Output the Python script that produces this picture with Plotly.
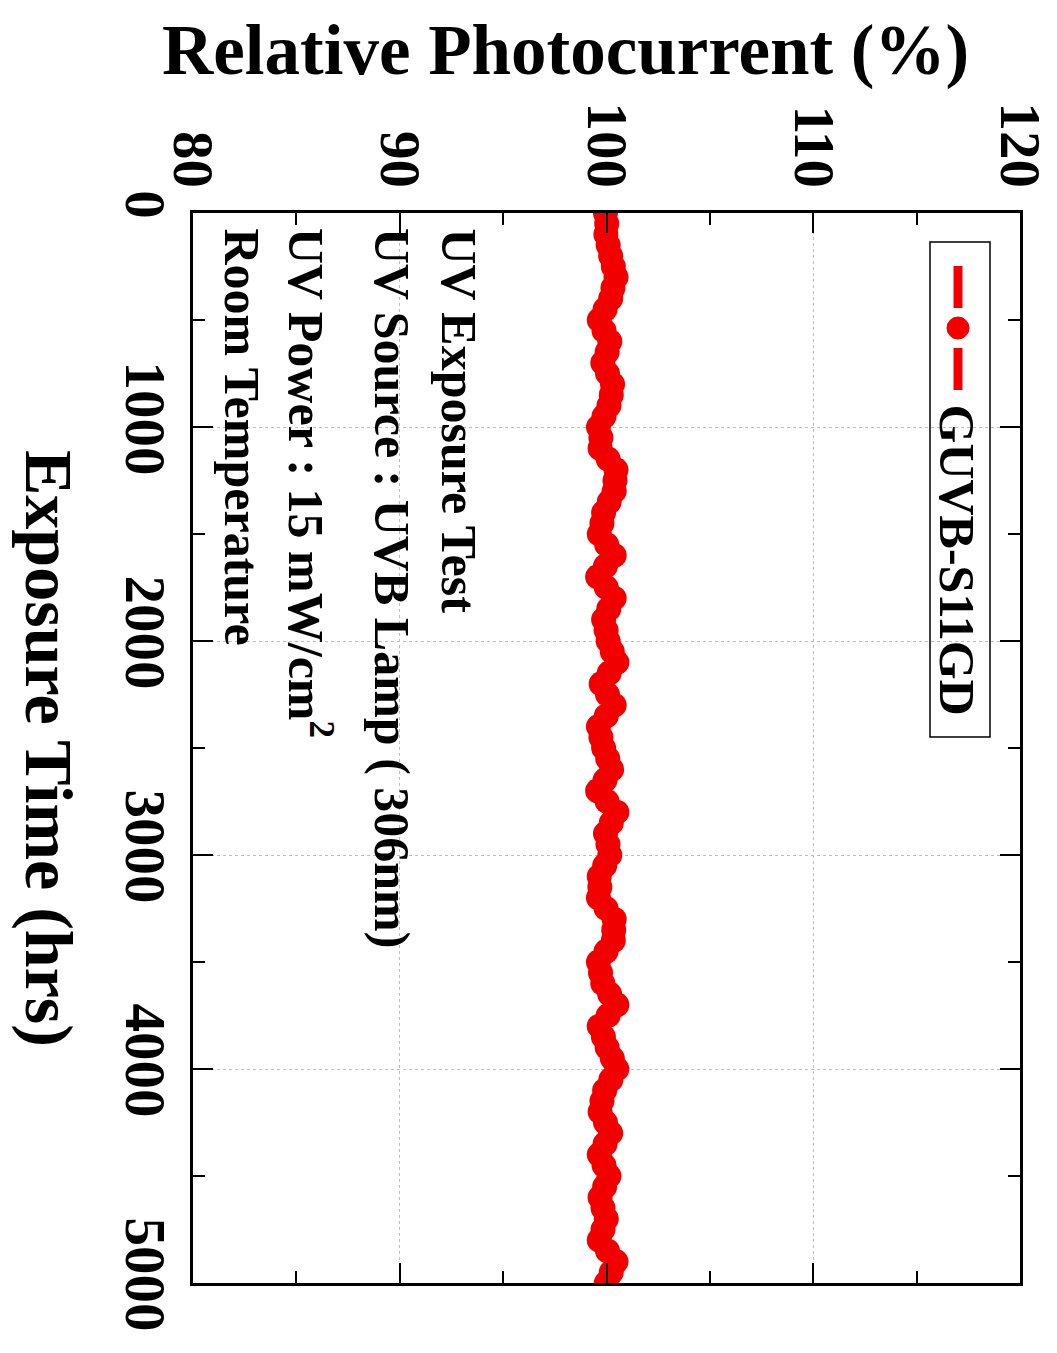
import plotly.graph_objects as go

# Exposure time (hrs), one reading every 50 hrs
exposure_hrs = [0, 50, 100, 150, 200, 250, 300, 350, 400, 450,
                500, 550, 600, 650, 700, 750, 800, 850, 900, 950,
                1000, 1050, 1100, 1150, 1200, 1250, 1300, 1350, 1400, 1450,
                1500, 1550, 1600, 1650, 1700, 1750, 1800, 1850, 1900, 1950,
                2000, 2050, 2100, 2150, 2200, 2250, 2300, 2350, 2400, 2450,
                2500, 2550, 2600, 2650, 2700, 2750, 2800, 2850, 2900, 2950,
                3000, 3050, 3100, 3150, 3200, 3250, 3300, 3350, 3400, 3450,
                3500, 3550, 3600, 3650, 3700, 3750, 3800, 3850, 3900, 3950,
                4000, 4050, 4100, 4150, 4200, 4250, 4300, 4350, 4400, 4450,
                4500, 4550, 4600, 4650, 4700, 4750, 4800, 4850, 4900, 4950, 5000]
# Relative photocurrent (%)
photocurrent = [99.95, 100.01, 99.97, 100.08, 100.20, 100.33, 100.46, 100.31, 100.20, 99.93,
                99.65, 99.88, 100.16, 100.03, 99.82, 100.05, 100.29, 100.23, 100.12, 99.88,
                99.61, 99.73, 99.69, 100.08, 100.46, 100.41, 100.37, 100.13, 99.86, 99.78,
                99.65, 100.01, 100.37, 99.95, 99.57, 99.99, 100.37, 100.11, 99.86, 99.98,
                100.08, 100.28, 100.50, 100.13, 99.74, 100.05, 100.37, 99.99, 99.61, 99.73,
                99.86, 100.06, 100.25, 99.93, 99.57, 100.03, 100.50, 100.23, 99.95, 100.07,
                100.16, 99.91, 99.65, 99.68, 99.61, 99.98, 100.37, 100.35, 100.33, 99.98,
                99.61, 99.71, 99.82, 100.15, 100.50, 100.08, 99.65, 99.85, 100.03, 100.28,
                100.50, 100.21, 99.91, 99.78, 99.69, 99.95, 100.20, 99.93, 99.65, 99.88,
                100.12, 99.91, 99.69, 99.83, 99.99, 99.83, 99.65, 100.05, 100.46, 100.23, 99.99]

x_ticks = [80, 90, 100, 110, 120]
y_ticks = [0, 1000, 2000, 3000, 4000, 5000]
series_name = "GUVB-S11GD"
notes = ["UV Exposure Test",
         "UV Source : UVB Lamp ( 306nm)",
         "UV Power : 15 mW/cm<sup>2</sup>",
         "Room Temperature"]

FONT = "Liberation Serif"
RED = "#f20000"

OFF = 8  # page body margin of the html page
W, H = 1057 - OFF, 1353 - OFF
L, R, T, B = 193 - OFF, 37, 213 - OFF, 70
PW, PH = W - L - R, H - T - B


def px(xp):
    # page pixel -> paper coordinate
    return (xp - OFF - L) / PW


def py(yp):
    return 1 - (yp - OFF - T) / PH


fig = go.Figure()
fig.add_trace(go.Scatter(
    x=photocurrent, y=exposure_hrs, mode="lines+markers",
    line=dict(color=RED, width=6),
    marker=dict(color=RED, size=25, symbol="circle"),
    name=series_name, showlegend=False,
))

axis_common = dict(
    showline=True, linecolor="black", linewidth=3, mirror="ticks",
    ticks="inside", ticklen=20, tickwidth=2, tickcolor="black",
    showgrid=True, gridcolor="#bdbdbd", griddash="dot", gridwidth=1,
    zeroline=False, tickangle=90, automargin=False,
    tickfont=dict(family=FONT, size=57, color="black", weight="bold"),
)

fig.update_xaxes(
    range=[80, 120], side="top", tickvals=x_ticks,
    ticktext=[str(v) for v in x_ticks],
    minor=dict(dtick=5, ticks="inside", ticklen=12, tickwidth=2, tickcolor="black", showgrid=False),
    ticklabelstandoff=2,
    **axis_common,
)
fig.update_yaxes(
    range=[5000, 0], tickvals=y_ticks,
    ticktext=[str(v) for v in y_ticks],
    minor=dict(dtick=500, ticks="inside", ticklen=12, tickwidth=2, tickcolor="black", showgrid=False),
    ticklabelstandoff=-4,
    **axis_common,
)

annotations = [
    dict(text="<b>Relative Photocurrent (%)</b>", xref="paper", yref="paper",
         x=px(565), y=py(9), xanchor="center", yanchor="top", showarrow=False,
         font=dict(family=FONT, size=71, color="black")),
    dict(text="<b>Exposure Time (hrs)</b>", xref="paper", yref="paper",
         x=px(9), y=py(748), xanchor="left", yanchor="middle", showarrow=False,
         textangle=90, font=dict(family=FONT, size=68, color="black")),
    dict(text="<b>" + series_name + "</b>", xref="paper", yref="paper",
         x=px(957), y=py(402), xanchor="center", yanchor="top", showarrow=False,
         textangle=90, font=dict(family=FONT, size=50, color="black")),
]
note_x = [459, 392, 310, 242]
for t, xc in zip(notes, note_x):
    annotations.append(dict(
        text="<b>" + t + "</b>", xref="paper", yref="paper",
        x=px(xc), y=py(226), xanchor="center", yanchor="top", showarrow=False,
        textangle=90, font=dict(family=FONT, size=50, color="black")))

shapes = [
    # legend box
    dict(type="rect", xref="paper", yref="paper",
         x0=px(930), x1=px(990), y0=py(242), y1=py(737),
         line=dict(color="black", width=1.5), fillcolor="white", layer="below"),
    # legend sample line segments
    dict(type="line", xref="paper", yref="paper",
         x0=px(958), x1=px(958), y0=py(266), y1=py(308),
         line=dict(color=RED, width=9)),
    dict(type="line", xref="paper", yref="paper",
         x0=px(958), x1=px(958), y0=py(348), y1=py(390),
         line=dict(color=RED, width=9)),
    # legend sample marker
    dict(type="circle", xref="paper", yref="paper",
         x0=px(947), x1=px(969), y0=py(317), y1=py(339),
         line=dict(color=RED, width=1), fillcolor=RED),
]

fig.update_layout(
    width=W, height=H,
    margin=dict(l=L, r=R, t=T, b=B),
    paper_bgcolor="white", plot_bgcolor="white",
    annotations=annotations, shapes=shapes,
    showlegend=False,
)

fig.write_html("out.html")
